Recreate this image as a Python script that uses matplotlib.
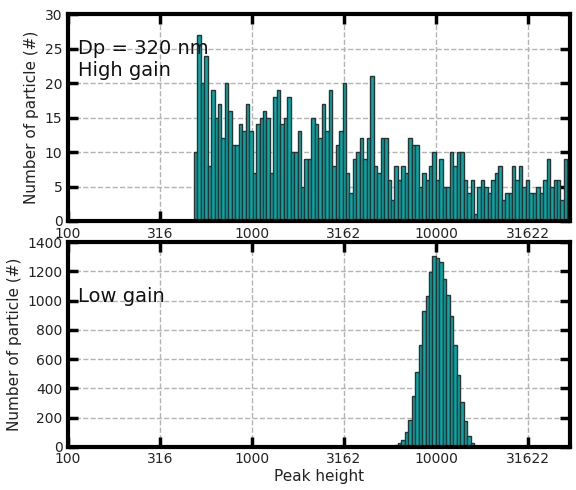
import numpy as np
import matplotlib
matplotlib.use("Agg")
import matplotlib.pyplot as plt

# histogram bins in log10(peak height)
bin_width = 0.0188
first_edge = 2.684

# high gain counts, starting at bin 0
high_counts = [10, 27, 20, 24, 8, 19, 15, 17, 12, 20,
               16, 11, 11, 14, 13, 17, 13, 7, 14, 15,
               16, 15, 7, 18, 19, 14, 15, 18, 10, 10,
               13, 5, 9, 9, 15, 14, 12, 17, 13, 19,
               8, 11, 13, 20, 7, 4, 9, 10, 12, 9,
               12, 21, 8, 7, 12, 12, 6, 3, 8, 6,
               8, 7, 12, 11, 11, 5, 7, 6, 8, 10,
               6, 9, 5, 5, 10, 8, 10, 10, 6, 4,
               6, 1, 5, 6, 5, 4, 6, 7, 8, 3,
               4, 4, 8, 6, 8, 5, 6, 4, 4, 5,
               4, 6, 9, 5, 6, 6, 3, 9]

# low gain counts, starting at bin 58
low_first_bin = 58
low_counts = [10, 24, 48, 105, 182, 345, 515, 695, 927, 1033, 1197, 1305,
              1288, 1262, 1148, 1035, 895, 698, 492, 305, 176, 72, 26]

xtick_pos = [2.0, 2.5, 3.0, 3.5, 4.0, 4.5]
xtick_labels = ['100', '316', '1000', '3162', '10000', '31622']

high_left = first_edge + bin_width * np.arange(len(high_counts))
low_left = first_edge + bin_width * (low_first_bin + np.arange(len(low_counts)))

fig = plt.figure(figsize=(5.76, 4.9), dpi=100)
ax1 = fig.add_axes([0.118, 0.549, 0.872, 0.422])
ax2 = fig.add_axes([0.118, 0.088, 0.872, 0.418])

# narrow bars with dark edges -> teal look
bar_kw = dict(width=bin_width, align='edge', color='#00aaaa',
              edgecolor='#303030', linewidth=1.0, zorder=2)
ax1.bar(high_left, high_counts, **bar_kw)
ax2.bar(low_left, low_counts, **bar_kw)

for ax in (ax1, ax2):
    ax.set_xlim(2.0, 4.73)
    ax.set_xticks(xtick_pos)
    ax.set_xticklabels(xtick_labels)
    ax.grid(True, linestyle='--', color='#b4b4b4', linewidth=1, zorder=0)
    ax.set_axisbelow(True)
    ax.tick_params(direction='in', length=7, width=2.5, top=True, right=True,
                   labelsize=10, pad=4, labelcolor='#222222')
    for s in ax.spines.values():
        s.set_linewidth(3)
    ax.set_ylabel('Number of particle (#)', fontsize=11, color='#222222')

ax1.set_ylim(0, 30)
ax1.set_yticks(range(0, 31, 5))
ax2.set_ylim(0, 1400)
ax2.set_yticks(range(0, 1401, 200))
ax2.set_xlabel('Peak height', fontsize=11, labelpad=2, color='#222222')

ax1.text(0.02, 0.78, 'Dp = 320 nm\nHigh gain', transform=ax1.transAxes,
         fontsize=14, va='center', ha='left', color='#111111')
ax2.text(0.02, 0.735, 'Low gain', transform=ax2.transAxes,
         fontsize=14, va='center', ha='left', color='#111111')

fig.savefig('out.png', dpi=100)
